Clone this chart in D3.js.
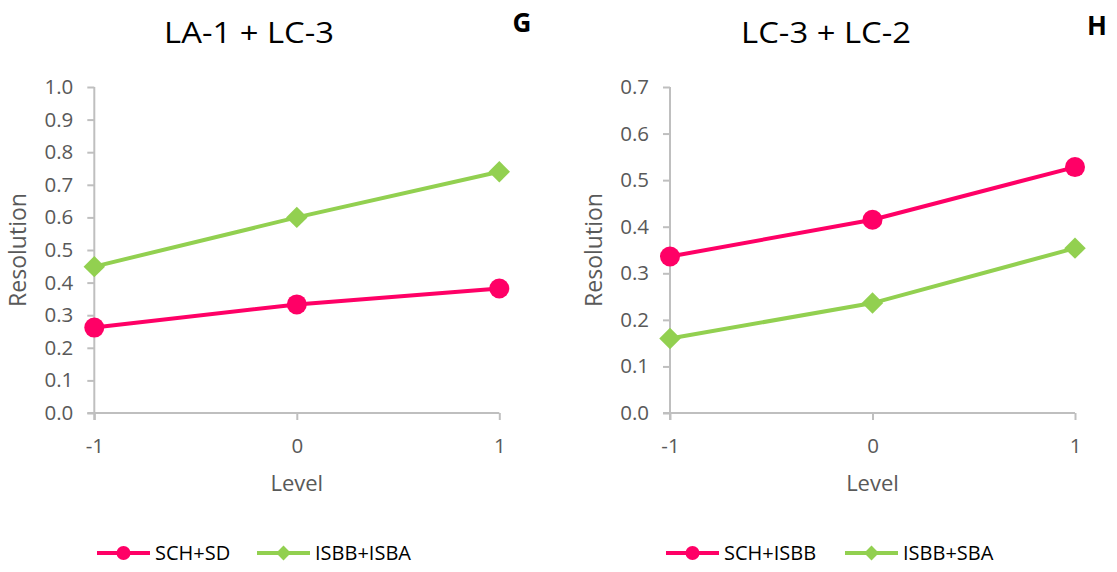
<!DOCTYPE html>
<html><head><meta charset="utf-8">
<script src="https://cdn.jsdelivr.net/npm/d3@7"></script>
<style>body{margin:0;background:#fff;} svg{display:block;} text{font-family:"Open Sans",sans-serif;}</style>
</head><body>
<svg id="c" width="1117" height="572"></svg>
<script>
// Data
const levels = [-1, 0, 1];
const panelTitles = ["LA-1 + LC-3", "LC-3 + LC-2"];
const panelLetters = ["G", "H"];
const leftSeriesNames = ["SCH+SD", "ISBB+ISBA"];
const leftSCH = [0.262, 0.333, 0.382];
const leftISBB = [0.449, 0.600, 0.740];
const rightSeriesNames = ["SCH+ISBB", "ISBB+SBA"];
const rightSCH = [0.336, 0.415, 0.528];
const rightISBB = [0.160, 0.236, 0.354];
const leftYTicks = [0, 0.1, 0.2, 0.3, 0.4, 0.5, 0.6, 0.7, 0.8, 0.9, 1.0];
const rightYTicks = [0, 0.1, 0.2, 0.3, 0.4, 0.5, 0.6, 0.7];
const xLabel = "Level";
const yLabel = "Resolution";

const PINK = "#FF0066", GREEN = "#92D050", AXIS = "#BFBFBF", LBL = "#595959";
const svg = d3.select("#c");

const panels = [
  {x0: 94.3, x1: 499.3, yTop: 87, yBot: 413, yMax: 1.0, yTicks: leftYTicks,
   series: [leftSCH, leftISBB], names: leftSeriesNames, title: panelTitles[0], letter: panelLetters[0],
   titleX: 249, letterX: 522, letterY: 32, yLabX: 18, legend: [97, 257]},
  {x0: 670, x1: 1075, yTop: 87, yBot: 413, yMax: 0.7, yTicks: rightYTicks,
   series: [rightSCH, rightISBB], names: rightSeriesNames, title: panelTitles[1], letter: panelLetters[1],
   titleX: 826, letterX: 1097, letterY: 35, yLabX: 594, legend: [666, 845]}
];

function drawMarker(g, kind, x, y) {
  if (kind === 0) {
    g.append("circle").attr("cx", x).attr("cy", y).attr("r", 10).attr("fill", PINK);
  } else {
    g.append("path").attr("d", d3.symbol().type(d3.symbolSquare).size(230)())
      .attr("transform", `translate(${x},${y}) rotate(45)`).attr("fill", GREEN);
  }
}

panels.forEach(p => {
  const x = d3.scaleLinear().domain([-1, 1]).range([p.x0, p.x1]);
  const y = d3.scaleLinear().domain([0, p.yMax]).range([p.yBot, p.yTop]);
  const g = svg.append("g");

  // y axis
  const ya = g.append("g").attr("transform", `translate(${p.x0},0)`)
    .call(d3.axisLeft(y).tickValues(p.yTicks).tickFormat(d3.format(".1f")).tickSize(7).tickPadding(14));
  ya.select(".domain").remove();
  ya.selectAll(".tick line").attr("stroke", AXIS).attr("stroke-width", 2);
  ya.selectAll(".tick text").attr("fill", LBL).style("font-size", "20.5px").style("font-family", "Open Sans");
  g.append("line").attr("x1", p.x0).attr("x2", p.x0).attr("y1", p.yTop).attr("y2", p.yBot + 7)
    .attr("stroke", AXIS).attr("stroke-width", 2);

  // x axis
  const xa = g.append("g").attr("transform", `translate(0,${p.yBot})`)
    .call(d3.axisBottom(x).tickValues(levels).tickFormat(d3.format("d")).tickSize(7).tickPadding(18));
  xa.select(".domain").remove();
  xa.selectAll(".tick line").attr("stroke", AXIS).attr("stroke-width", 2);
  xa.selectAll(".tick text").attr("fill", LBL).style("font-size", "20.5px").style("font-family", "Open Sans")
    .text(d => d < 0 ? "-" + Math.abs(d) : d);
  g.append("line").attr("x1", p.x0 - 7).attr("x2", p.x1).attr("y1", p.yBot).attr("y2", p.yBot)
    .attr("stroke", AXIS).attr("stroke-width", 2);

  // axis titles
  g.append("text").attr("x", (p.x0 + p.x1) / 2).attr("y", 491).attr("text-anchor", "middle")
    .attr("fill", LBL).style("font-size", "22px").text(xLabel);
  g.append("text").attr("transform", `translate(${p.yLabX + 8},250) rotate(-90)`).attr("text-anchor", "middle")
    .attr("fill", LBL).style("font-size", "23px").text(yLabel);

  // title and letter
  g.append("text").attr("transform", `translate(${p.titleX},43) scale(1.15,1)`).attr("text-anchor", "middle")
    .attr("fill", "#000").style("font-size", "28.5px").text(p.title);
  g.append("text").attr("x", p.letterX).attr("y", p.letterY).attr("text-anchor", "middle")
    .attr("fill", "#000").style("font-size", "26px").style("font-weight", "bold").text(p.letter);

  // series
  const line = d3.line().x((d, i) => x(levels[i])).y(d => y(d));
  p.series.forEach((s, k) => {
    const col = k === 0 ? PINK : GREEN;
    g.append("path").datum(s).attr("d", line).attr("fill", "none").attr("stroke", col).attr("stroke-width", 4);
    s.forEach((v, i) => drawMarker(g, k, x(levels[i]), y(v)));
  });

  // legend
  p.names.forEach((n, k) => {
    const lx = p.legend[k], ly = 553;
    const col = k === 0 ? PINK : GREEN;
    g.append("line").attr("x1", lx).attr("x2", lx + 53).attr("y1", ly).attr("y2", ly)
      .attr("stroke", col).attr("stroke-width", 4);
    if (k === 0) g.append("circle").attr("cx", lx + 26.5).attr("cy", ly).attr("r", 7).attr("fill", PINK);
    else g.append("path").attr("d", d3.symbol().type(d3.symbolSquare).size(110)())
      .attr("transform", `translate(${lx + 26.5},${ly}) rotate(45)`).attr("fill", GREEN);
    g.append("text").attr("x", lx + 58).attr("y", ly).attr("dy", "0.35em")
      .attr("fill", "#000").style("font-size", "20px").text(n);
  });
});
</script>
</body></html>
